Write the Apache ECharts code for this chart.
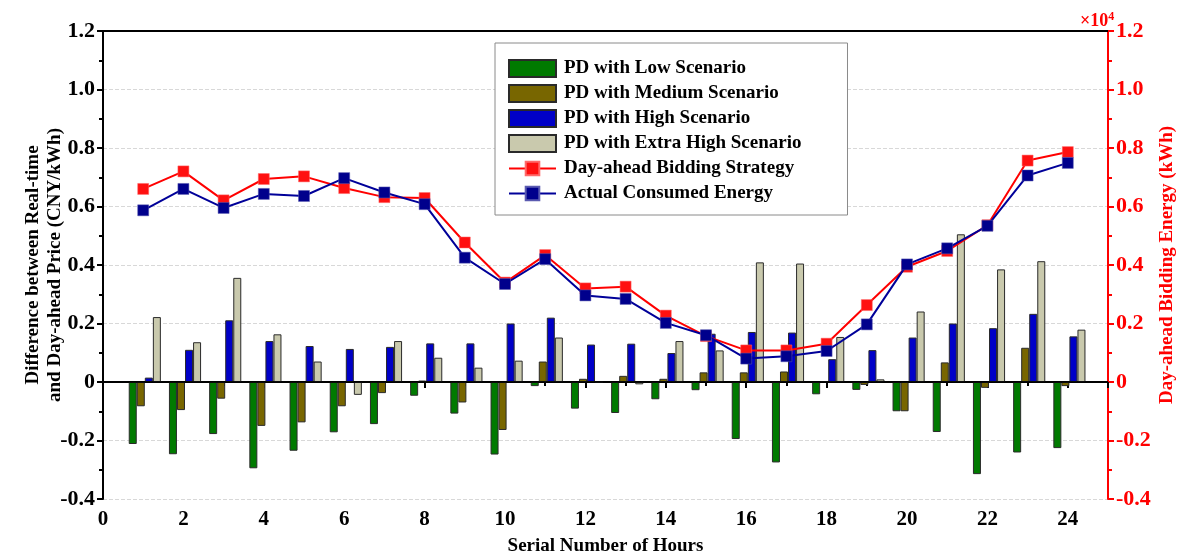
<!DOCTYPE html>
<html>
<head>
<meta charset="utf-8">
<script src="https://cdn.jsdelivr.net/npm/echarts@6/dist/echarts.min.js"></script>
<style>html,body{margin:0;padding:0;background:#fff}#c{width:1184px;height:556px}</style>
</head>
<body>
<div id="c"></div>
<script>
// ---- data ----
const hours = [1,2,3,4,5,6,7,8,9,10,11,12,13,14,15,16,17,18,19,20,21,22,23,24];
const pdLow = [-0.212,-0.247,-0.178,-0.295,-0.235,-0.172,-0.144,-0.047,-0.108,-0.248,-0.014,-0.091,-0.106,-0.059,-0.028,-0.195,-0.275,-0.042,-0.027,-0.100,-0.171,-0.315,-0.241,-0.226];
const pdMedium = [-0.083,-0.096,-0.057,-0.150,-0.138,-0.083,-0.038,0.005,-0.070,-0.164,0.070,0.011,0.021,0.011,0.033,0.033,0.036,0.003,-0.010,-0.100,0.067,-0.020,0.117,-0.014];
const pdHigh = [0.015,0.110,0.211,0.140,0.123,0.113,0.120,0.132,0.132,0.200,0.220,0.128,0.131,0.099,0.165,0.171,0.169,0.078,0.109,0.152,0.200,0.184,0.233,0.156];
const pdExtraHigh = [0.222,0.136,0.356,0.163,0.070,-0.044,0.140,0.083,0.049,0.073,0.152,-0.002,-0.008,0.140,0.108,0.409,0.405,0.154,0.009,0.241,0.505,0.385,0.413,0.179];
const biddingKWh = [6600,7200,6210,6940,7030,6630,6320,6290,4770,3400,4340,3200,3260,2270,1570,1080,1080,1310,2630,3940,4480,5360,7570,7860];
const actualKWh = [5870,6600,5950,6430,6360,6970,6480,6080,4250,3350,4200,2960,2840,2020,1600,800,880,1060,1970,4020,4570,5340,7060,7490];
const xTicks = [0,2,4,6,8,10,12,14,16,18,20,22,24];

const names = ['PD with Low Scenario','PD with Medium Scenario','PD with High Scenario','PD with Extra High Scenario','Day-ahead Bidding Strategy','Actual Consumed Energy'];
const barColors = ['#007a00','#786600','#0000c8','#c9c9ad'];
const barSets = [pdLow, pdMedium, pdHigh, pdExtraHigh];
const barOffsets = [-0.26,-0.06,0.14,0.34];

const FONT = '"Liberation Serif","Times New Roman",serif';

const barSeries = barSets.map((arr, i) => ({
  name: names[i],
  type: 'bar',
  xAxisIndex: 0, yAxisIndex: 0,
  barWidth: 8,
  barGap: '-100%',
  itemStyle: { color: barColors[i], borderColor: '#2a2a2a', borderWidth: 1 },
  data: arr.map((v, k) => [hours[k] + barOffsets[i], v]),
  z: 2
}));
barSeries[0].markLine = {
  silent: true, symbol: 'none', label: { show: false },
  lineStyle: { color: '#000', width: 1.5, type: 'solid' },
  data: [{ yAxis: 0 }]
};

const chart = echarts.init(document.getElementById('c'));
chart.setOption({
  animation: false,
  backgroundColor: '#fff',
  textStyle: { fontFamily: FONT },
  grid: { left: 103, right: 76, top: 31, bottom: 57, containLabel: false, outerBoundsMode: 'none' },
  legend: {
    left: 495, top: 43,
    orient: 'vertical',
    padding: [16, 46, 12, 13],
    itemWidth: 47, itemHeight: 17, itemGap: 6,
    borderColor: '#8a8a8a', borderWidth: 1,
    backgroundColor: '#fff',
    textStyle: { fontFamily: FONT, fontWeight: 'bold', fontSize: 19, lineHeight: 17, color: '#000', padding: [0,0,0,3] },
    data: [
      { name: names[0], icon: 'rect' },
      { name: names[1], icon: 'rect' },
      { name: names[2], icon: 'rect' },
      { name: names[3], icon: 'rect' },
      { name: names[4] },
      { name: names[5] }
    ]
  },
  xAxis: [{
    type: 'value', min: 0, max: 25, interval: 2,
    position: 'bottom',
    name: 'Serial Number of Hours', nameLocation: 'middle', nameGap: 38, nameMoveOverlap: false,
    nameTextStyle: { fontFamily: FONT, fontWeight: 'bold', fontSize: 19, color: '#000' },
    axisLine: { lineStyle: { color: '#000', width: 2 } },
    axisTick: { length: 6, lineStyle: { color: '#000', width: 2 } },
    minorTick: { show: true, splitNumber: 2, length: 4, lineStyle: { color: '#000', width: 2 } },
    axisLabel: { fontFamily: FONT, fontWeight: 'bold', fontSize: 21, color: '#000', margin: 10,
      formatter: v => xTicks.indexOf(v) >= 0 ? String(v) : '' },
    splitLine: { show: false }
  }, {
    type: 'value', min: 0, max: 25, position: 'top',
    axisLine: { show: true, onZero: false, lineStyle: { color: '#000', width: 2 } },
    axisTick: { show: false }, axisLabel: { show: false }, splitLine: { show: false }
  }],
  yAxis: [{
    type: 'value', min: -0.4, max: 1.2, interval: 0.2,
    position: 'left',
    name: 'Difference between Real-time\nand Day-ahead Price (CNY/kWh)',
    nameLocation: 'middle', nameGap: 37, nameRotate: 90, nameMoveOverlap: false,
    nameTextStyle: { fontFamily: FONT, fontWeight: 'bold', fontSize: 19, color: '#000', lineHeight: 22 },
    axisLine: { show: true, onZero: false, lineStyle: { color: '#000', width: 2 } },
    axisTick: { show: true, length: 6, lineStyle: { color: '#000', width: 2 } },
    minorTick: { show: true, splitNumber: 2, length: 4, lineStyle: { color: '#000', width: 2 } },
    axisLabel: { fontFamily: FONT, fontWeight: 'bold', fontSize: 22, color: '#000', margin: 8,
      formatter: v => Math.abs(v) < 1e-9 ? '0' : v.toFixed(1) },
    splitLine: { show: true, lineStyle: { color: '#d8d8d8', type: 'dashed', width: 1 } }
  }, {
    type: 'value', min: -4000, max: 12000, interval: 2000,
    position: 'right',
    name: 'Day-ahead Bidding Energy (kWh)',
    nameLocation: 'middle', nameGap: 50, nameRotate: 90, nameMoveOverlap: false,
    nameTextStyle: { fontFamily: FONT, fontWeight: 'bold', fontSize: 19, color: '#ff0000' },
    axisLine: { show: true, onZero: false, lineStyle: { color: '#ff0000', width: 2 } },
    axisTick: { show: true, length: 6, lineStyle: { color: '#ff0000', width: 2 } },
    minorTick: { show: true, splitNumber: 2, length: 4, lineStyle: { color: '#ff0000', width: 2 } },
    axisLabel: { fontFamily: FONT, fontWeight: 'bold', fontSize: 22, color: '#ff0000', margin: 8,
      formatter: v => Math.abs(v) < 1e-9 ? '0' : (v / 1e4).toFixed(1) },
    splitLine: { show: false }
  }],
  graphic: [{
    type: 'text', left: 1080, top: 11,
    style: {
      text: '{a|×10}{b|4}',
      rich: {
        a: { fontFamily: FONT, fontWeight: 'bold', fontSize: 18, fill: '#ff0000' },
        b: { fontFamily: FONT, fontWeight: 'bold', fontSize: 12, fill: '#ff0000', verticalAlign: 'top', padding: [0,0,9,0] }
      }
    }
  }],
  series: barSeries.concat([{
    name: names[4], type: 'line', xAxisIndex: 0, yAxisIndex: 1,
    data: biddingKWh.map((v, k) => [hours[k], v]),
    symbol: 'rect', symbolSize: 11,
    lineStyle: { color: '#ff0000', width: 2 },
    itemStyle: { color: '#ff1010', borderColor: '#ff6a6a', borderWidth: 0.5 },
    z: 5
  }, {
    name: names[5], type: 'line', xAxisIndex: 0, yAxisIndex: 1,
    data: actualKWh.map((v, k) => [hours[k], v]),
    symbol: 'rect', symbolSize: 11,
    lineStyle: { color: '#000099', width: 2 },
    itemStyle: { color: '#00008c', borderColor: '#5a5ab0', borderWidth: 0.5 },
    z: 6
  }])
});
</script>
</body>
</html>
